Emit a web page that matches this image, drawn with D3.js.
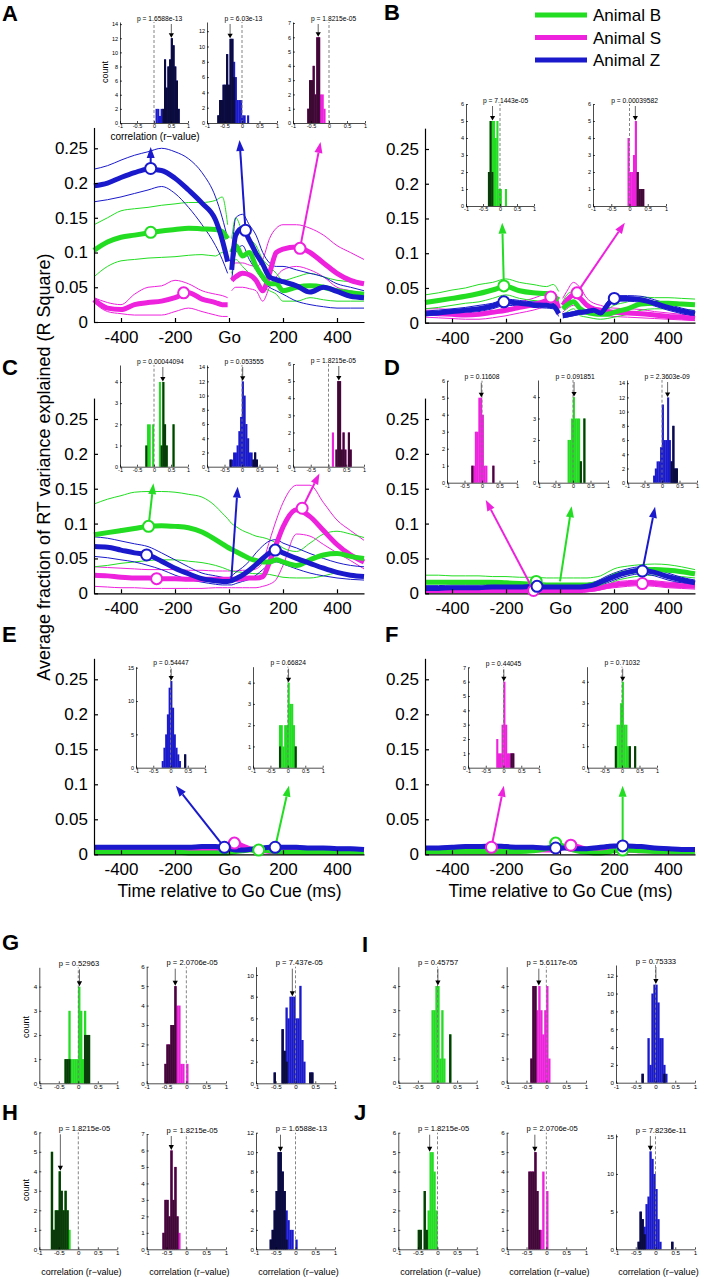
<!DOCTYPE html>
<html><head><meta charset="utf-8">
<script src="https://cdn.jsdelivr.net/npm/d3@7"></script>
<style>body{margin:0;background:#fff}svg{display:block}</style>
</head><body>
<svg id="fig" width="706" height="1280"></svg>
<script>
// ---------------- DATA ----------------
const times = [-500,-450,-400,-350,-300,-250,-200,-150,-100,-50,-25,-5,10,25,50,75,100,125,150,175,200,250,300,350,400,450,500];
const xTickValues = [-400,-200,0,200,400];
const xTickLabels = ["-400","-200","Go","200","400"];
const yTickValues = [0,0.05,0.1,0.15,0.2,0.25];
const yTickLabels = ["0","0.05","0.1","0.15","0.2","0.25"];
const animals = ["B","S","Z"];
const animalNames = ["Animal B","Animal S","Animal Z"];

// Panel A
const A_Z_mean=[0.196,0.2,0.208,0.215,0.22,0.218,0.207,0.19,0.171,0.147,0.118,0.087,0.075,0.125,0.135,0.118,0.099,0.083,0.065,0.061,0.058,0.052,0.043,0.05,0.044,0.037,0.035];
const A_Z_hi=[0.22,0.225,0.233,0.24,0.245,0.25,0.245,0.235,0.215,0.18,0.15,0.12,0.09,0.15,0.155,0.14,0.125,0.1,0.085,0.08,0.08,0.075,0.07,0.065,0.055,0.05,0.045];
const A_Z_lo=[0.173,0.176,0.18,0.185,0.19,0.195,0.185,0.165,0.14,0.11,0.09,0.07,0.06,0.1,0.11,0.09,0.075,0.06,0.05,0.045,0.04,0.03,0.025,0.022,0.02,0.02,0.02];
const A_B_mean=[0.103,0.115,0.122,0.125,0.128,0.131,0.133,0.135,0.134,0.133,0.13,0.12,0.1,0.11,0.095,0.1,0.08,0.065,0.055,0.055,0.045,0.05,0.052,0.05,0.045,0.042,0.04];
const A_B_hi=[0.14,0.15,0.16,0.163,0.165,0.168,0.17,0.172,0.172,0.175,0.18,0.14,0.12,0.15,0.13,0.12,0.11,0.09,0.08,0.07,0.06,0.065,0.07,0.065,0.06,0.058,0.055];
const A_B_lo=[0.065,0.08,0.088,0.09,0.092,0.093,0.094,0.096,0.097,0.095,0.1,0.09,0.07,0.09,0.08,0.07,0.06,0.05,0.045,0.04,0.03,0.03,0.035,0.032,0.03,0.03,0.03];
const A_S_mean=[0.032,0.02,0.018,0.025,0.028,0.03,0.035,0.042,0.033,0.028,0.025,0.025,0.06,0.065,0.07,0.068,0.06,0.045,0.07,0.1,0.105,0.108,0.1,0.085,0.07,0.06,0.055];
const A_S_hi=[0.035,0.028,0.025,0.04,0.05,0.052,0.06,0.055,0.045,0.04,0.038,0.035,0.08,0.085,0.085,0.082,0.08,0.09,0.12,0.135,0.14,0.14,0.135,0.125,0.11,0.1,0.09];
const A_S_lo=[0.028,0.015,0.012,0.01,0.01,0.01,0.015,0.02,0.015,0.01,0.008,0.008,0.045,0.05,0.05,0.048,0.045,0.03,0.05,0.065,0.075,0.08,0.075,0.065,0.05,0.045,0.04];
// Panel B
const B_B_mean=[0.029,0.032,0.035,0.038,0.042,0.047,0.052,0.046,0.043,0.042,0.038,0.033,0.02,0.025,0.03,0.02,0.015,0.013,0.012,0.012,0.015,0.02,0.027,0.028,0.028,0.027,0.026];
const B_B_hi=[0.04,0.043,0.047,0.05,0.055,0.058,0.063,0.058,0.055,0.052,0.055,0.045,0.03,0.04,0.045,0.035,0.025,0.022,0.02,0.02,0.025,0.03,0.037,0.036,0.036,0.035,0.034];
const B_B_lo=[0.02,0.022,0.025,0.028,0.03,0.035,0.04,0.035,0.032,0.03,0.028,0.025,0.01,0.015,0.02,0.01,0.008,0.006,0.005,0.006,0.008,0.012,0.018,0.02,0.02,0.019,0.018];
const B_Z_mean=[0.013,0.014,0.016,0.018,0.02,0.024,0.03,0.028,0.026,0.025,0.024,0.013,0.01,0.011,0.013,0.015,0.016,0.018,0.014,0.025,0.035,0.035,0.033,0.028,0.022,0.017,0.013];
const B_Z_hi=[0.017,0.018,0.02,0.022,0.025,0.028,0.034,0.032,0.03,0.03,0.028,0.017,0.013,0.014,0.016,0.018,0.019,0.021,0.018,0.03,0.039,0.039,0.038,0.033,0.027,0.021,0.017];
const B_Z_lo=[0.01,0.011,0.012,0.014,0.016,0.02,0.025,0.024,0.022,0.021,0.02,0.009,0.007,0.008,0.01,0.012,0.013,0.015,0.011,0.021,0.031,0.031,0.029,0.024,0.018,0.013,0.009];
const B_S_mean=[0.014,0.013,0.012,0.011,0.012,0.015,0.018,0.022,0.026,0.032,0.037,0.02,0.025,0.032,0.04,0.035,0.025,0.02,0.018,0.016,0.015,0.014,0.013,0.011,0.009,0.008,0.006];
const B_S_hi=[0.02,0.02,0.019,0.02,0.022,0.025,0.028,0.03,0.035,0.042,0.045,0.028,0.035,0.045,0.058,0.05,0.035,0.028,0.025,0.022,0.021,0.02,0.019,0.016,0.014,0.012,0.01];
const B_S_lo=[0.008,0.007,0.006,0.005,0.005,0.007,0.01,0.014,0.018,0.024,0.028,0.012,0.015,0.02,0.025,0.02,0.015,0.012,0.011,0.01,0.009,0.008,0.007,0.006,0.005,0.004,0.003];
// Panel C
const C_B_mean=[0.084,0.087,0.09,0.093,0.096,0.097,0.096,0.094,0.088,0.077,0.071,0.066,0.063,0.06,0.055,0.05,0.047,0.045,0.045,0.048,0.045,0.04,0.048,0.055,0.057,0.053,0.05];
const C_B_hi=[0.128,0.135,0.14,0.145,0.146,0.146,0.145,0.142,0.138,0.125,0.115,0.107,0.1,0.096,0.09,0.086,0.082,0.08,0.077,0.072,0.065,0.06,0.072,0.085,0.089,0.085,0.08];
const C_B_lo=[0.038,0.04,0.043,0.045,0.047,0.048,0.048,0.046,0.044,0.04,0.037,0.034,0.032,0.031,0.03,0.029,0.028,0.028,0.027,0.025,0.023,0.022,0.022,0.025,0.029,0.028,0.026];
const C_Z_mean=[0.067,0.066,0.062,0.058,0.055,0.046,0.036,0.028,0.021,0.018,0.017,0.017,0.018,0.021,0.026,0.033,0.041,0.05,0.058,0.062,0.058,0.05,0.043,0.036,0.03,0.026,0.024];
const C_Z_hi=[0.081,0.079,0.075,0.071,0.067,0.058,0.048,0.038,0.029,0.025,0.023,0.022,0.025,0.03,0.037,0.046,0.058,0.068,0.075,0.077,0.072,0.065,0.057,0.05,0.044,0.04,0.038];
const C_Z_lo=[0.053,0.051,0.048,0.045,0.04,0.034,0.026,0.02,0.016,0.013,0.012,0.012,0.012,0.014,0.017,0.02,0.026,0.034,0.042,0.045,0.042,0.035,0.029,0.025,0.022,0.02,0.019];
const C_S_mean=[0.026,0.025,0.023,0.022,0.022,0.021,0.021,0.02,0.02,0.02,0.02,0.02,0.02,0.02,0.021,0.022,0.022,0.024,0.045,0.07,0.095,0.12,0.11,0.09,0.07,0.055,0.045];
const C_S_hi=[0.038,0.037,0.036,0.035,0.034,0.034,0.034,0.033,0.033,0.032,0.032,0.032,0.032,0.032,0.033,0.033,0.035,0.045,0.075,0.105,0.13,0.155,0.155,0.13,0.105,0.09,0.076];
const C_S_lo=[0.01,0.009,0.008,0.008,0.007,0.007,0.007,0.007,0.007,0.008,0.008,0.008,0.008,0.008,0.008,0.008,0.008,0.01,0.013,0.02,0.04,0.085,0.082,0.07,0.058,0.047,0.035];
// Panel D
const D_B_mean=[0.016,0.016,0.016,0.016,0.016,0.016,0.015,0.014,0.013,0.012,0.012,0.012,0.012,0.012,0.012,0.012,0.012,0.013,0.015,0.02,0.025,0.03,0.033,0.034,0.033,0.031,0.028];
const D_B_hi=[0.026,0.026,0.025,0.025,0.025,0.024,0.024,0.023,0.023,0.022,0.022,0.022,0.022,0.022,0.022,0.022,0.022,0.023,0.025,0.03,0.035,0.039,0.041,0.042,0.041,0.038,0.034];
const D_B_lo=[0.008,0.008,0.008,0.008,0.008,0.008,0.007,0.007,0.006,0.006,0.006,0.006,0.006,0.006,0.006,0.006,0.006,0.007,0.008,0.012,0.017,0.022,0.025,0.026,0.025,0.024,0.022];
const D_Z_mean=[0.007,0.007,0.008,0.008,0.008,0.009,0.009,0.009,0.01,0.009,0.009,0.009,0.009,0.009,0.009,0.009,0.01,0.012,0.016,0.02,0.024,0.03,0.033,0.03,0.024,0.019,0.015];
const D_Z_hi=[0.011,0.011,0.012,0.012,0.012,0.013,0.013,0.013,0.014,0.013,0.013,0.013,0.013,0.013,0.013,0.013,0.014,0.016,0.02,0.025,0.029,0.035,0.038,0.035,0.029,0.023,0.019];
const D_Z_lo=[0.003,0.003,0.004,0.004,0.004,0.005,0.005,0.005,0.006,0.005,0.005,0.005,0.005,0.005,0.005,0.005,0.006,0.008,0.012,0.015,0.019,0.025,0.028,0.025,0.019,0.015,0.011];
const D_S_mean=[0.004,0.004,0.004,0.004,0.004,0.004,0.004,0.004,0.004,0.004,0.004,0.004,0.004,0.004,0.004,0.004,0.005,0.006,0.008,0.01,0.012,0.014,0.015,0.014,0.012,0.011,0.01];
const D_S_hi=[0.007,0.007,0.007,0.007,0.007,0.007,0.007,0.007,0.007,0.007,0.007,0.007,0.007,0.007,0.007,0.007,0.008,0.009,0.011,0.013,0.016,0.018,0.019,0.018,0.016,0.015,0.014];
const D_S_lo=[0.001,0.001,0.001,0.001,0.001,0.001,0.001,0.001,0.001,0.001,0.001,0.001,0.001,0.001,0.001,0.001,0.002,0.003,0.005,0.007,0.008,0.01,0.011,0.01,0.008,0.007,0.006];
// Panel E
const E_Z_mean=[0.010,0.010,0.010,0.010,0.010,0.010,0.010,0.010,0.011,0.011,0.010,0.009,0.007,0.006,0.006,0.007,0.008,0.009,0.010,0.010,0.010,0.010,0.009,0.009,0.008,0.008,0.007];
const E_Z_hi=[0.012,0.012,0.012,0.012,0.012,0.012,0.012,0.012,0.013,0.013,0.012,0.011,0.009,0.008,0.008,0.009,0.010,0.011,0.012,0.012,0.012,0.012,0.011,0.011,0.010,0.010,0.009];
const E_Z_lo=[0.008,0.008,0.008,0.008,0.008,0.008,0.008,0.008,0.009,0.009,0.008,0.007,0.005,0.004,0.004,0.005,0.006,0.007,0.008,0.008,0.008,0.008,0.007,0.007,0.006,0.006,0.005];
const E_S_mean=[0.005,0.005,0.005,0.005,0.005,0.005,0.005,0.005,0.006,0.007,0.009,0.012,0.015,0.016,0.012,0.008,0.005,0.005,0.004,0.004,0.004,0.004,0.004,0.004,0.004,0.004,0.004];
const E_S_hi=[0.007,0.007,0.007,0.007,0.007,0.007,0.007,0.007,0.008,0.009,0.011,0.014,0.017,0.018,0.014,0.010,0.007,0.007,0.006,0.006,0.006,0.006,0.006,0.006,0.006,0.006,0.006];
const E_S_lo=[0.003,0.003,0.003,0.003,0.003,0.003,0.003,0.003,0.004,0.005,0.007,0.010,0.013,0.014,0.010,0.006,0.003,0.003,0.002,0.002,0.002,0.002,0.002,0.002,0.002,0.002,0.002];
const E_B_mean=[0.003,0.003,0.003,0.003,0.003,0.003,0.003,0.002,0.002,0.002,0.002,0.002,0.003,0.004,0.005,0.006,0.006,0.006,0.005,0.004,0.003,0.003,0.003,0.003,0.003,0.003,0.003];
const E_B_hi=[0.005,0.005,0.005,0.005,0.005,0.005,0.005,0.004,0.004,0.004,0.004,0.004,0.005,0.006,0.007,0.008,0.008,0.008,0.007,0.006,0.005,0.005,0.005,0.005,0.005,0.005,0.005];
const E_B_lo=[0.001,0.001,0.001,0.001,0.001,0.001,0.001,0.000,0.000,0.000,0.000,0.000,0.001,0.002,0.003,0.004,0.004,0.004,0.003,0.002,0.001,0.001,0.001,0.001,0.001,0.001,0.001];
// Panel F
const F_Z_mean=[0.009,0.009,0.010,0.011,0.011,0.012,0.011,0.010,0.010,0.009,0.009,0.009,0.009,0.009,0.008,0.008,0.008,0.009,0.010,0.011,0.012,0.012,0.011,0.009,0.008,0.007,0.007];
const F_Z_hi=[0.011,0.011,0.012,0.013,0.013,0.014,0.013,0.012,0.012,0.011,0.011,0.011,0.011,0.011,0.010,0.010,0.010,0.011,0.012,0.013,0.014,0.014,0.013,0.011,0.010,0.009,0.009];
const F_Z_lo=[0.007,0.007,0.008,0.009,0.009,0.010,0.009,0.008,0.008,0.007,0.007,0.007,0.007,0.007,0.006,0.006,0.006,0.007,0.008,0.009,0.010,0.010,0.009,0.007,0.006,0.005,0.005];
const F_S_mean=[0.006,0.006,0.006,0.007,0.008,0.009,0.008,0.007,0.006,0.006,0.006,0.007,0.009,0.011,0.012,0.010,0.007,0.006,0.006,0.006,0.006,0.006,0.005,0.005,0.005,0.005,0.005];
const F_S_hi=[0.008,0.008,0.008,0.009,0.010,0.011,0.010,0.009,0.008,0.008,0.008,0.009,0.011,0.013,0.014,0.012,0.009,0.008,0.008,0.008,0.008,0.008,0.007,0.007,0.007,0.007,0.007];
const F_S_lo=[0.004,0.004,0.004,0.005,0.006,0.007,0.006,0.005,0.004,0.004,0.004,0.005,0.007,0.009,0.010,0.008,0.005,0.004,0.004,0.004,0.004,0.004,0.003,0.003,0.003,0.003,0.003];
const F_B_mean=[0.004,0.004,0.004,0.004,0.004,0.004,0.004,0.004,0.005,0.008,0.012,0.014,0.012,0.009,0.006,0.004,0.003,0.002,0.002,0.003,0.005,0.006,0.005,0.004,0.004,0.004,0.004];
const F_B_hi=[0.006,0.006,0.006,0.006,0.006,0.006,0.006,0.006,0.007,0.010,0.014,0.016,0.014,0.011,0.008,0.006,0.005,0.004,0.004,0.005,0.007,0.008,0.007,0.006,0.006,0.006,0.006];
const F_B_lo=[0.002,0.002,0.002,0.002,0.002,0.002,0.002,0.002,0.003,0.006,0.010,0.012,0.010,0.007,0.004,0.002,0.001,0.000,0.000,0.001,0.003,0.004,0.003,0.002,0.002,0.002,0.002];

// markers: [animal, time, value]
const markersA=[["Z",-290,0.221],["Z",61,0.132],["B",-290,0.129],["S",-168,0.042],["S",263,0.106]];
const markersB=[["B",-208,0.053],["Z",-208,0.03],["S",-34,0.037],["S",63,0.043],["Z",201,0.035]];
const markersC=[["B",-298,0.096],["Z",-305,0.055],["S",-268,0.021],["Z",171,0.062],["S",271,0.122]];
const markersD=[["S",-98,0.004],["B",-88,0.017],["Z",-85,0.01],["S",305,0.014],["Z",305,0.032]];
const markersE=[["B",110,0.006],["S",20,0.016],["Z",-17,0.01],["Z",171,0.01]];
const markersF=[["S",-254,0.01],["B",-16,0.016],["Z",-16,0.009],["S",40,0.013],["B",232,0.006],["Z",232,0.012]];
// pointer arrows: [animal, t0, v0, t1, v1]
const arrowsA=[["Z",-290,0.221,-290,0.252],["Z",61,0.132,39,0.262],["S",263,0.106,339,0.259]];
const arrowsB=[["B",-208,0.053,-214,0.144],["S",63,0.043,240,0.144]];
const arrowsC=[["B",-298,0.096,-280,0.158],["Z",8,0.017,32,0.153],["S",271,0.122,335,0.172]];
const arrowsD=[["S",-98,0.004,-275,0.134],["B",0,0.017,43,0.125],["Z",305,0.032,352,0.124]];
const arrowsE=[["Z",-17,0.01,-197,0.098],["B",171,0.01,222,0.098]];
const arrowsF=[["S",-254,0.01,-208,0.098],["B",232,0.012,232,0.098]];

// histograms: [bin left edge r, total count, significant (dark) count]
const BIN = 0.05;
const histA1=[[0.05,2,0],[0.1,2,0],[0.15,1,0],[0.2,2,0],[0.25,2,2],[0.3,9,9],[0.35,5,5],[0.4,8,8],[0.45,9,9],[0.5,12,12],[0.55,11,11],[0.6,8,8],[0.65,6,6],[0.7,2,2]];
const histA2=[[-0.7,1,1],[-0.65,3,3],[-0.6,3,3],[-0.55,5,5],[-0.5,5,5],[-0.45,9,9],[-0.4,5,5],[-0.35,11,11],[-0.3,11,11],[-0.25,8,6],[-0.2,6,0],[-0.15,3,0],[-0.1,3,0],[-0.05,3,0],[0,1,0],[0.05,1,0],[0.15,1,0]];
const histA3=[[-0.6,1,1],[-0.55,3,3],[-0.5,3,3],[-0.45,4,4],[-0.4,2,2],[-0.35,6,6],[-0.3,6,6],[-0.25,2,0],[-0.2,2,0],[-0.15,1,0]];
const histB1=[[-0.35,2,2],[-0.3,5,5],[-0.25,5,2],[-0.2,5,0],[-0.15,4,0],[-0.1,5,0],[-0.05,1,0],[0,1,0],[0.15,1,0]];
const histB2=[[-0.05,4,0],[0,2,0],[0.05,2,0],[0.1,3,0],[0.15,5,0],[0.2,2,2],[0.25,1,1],[0.3,1,1],[0.35,1,1]];
const histC1=[[-0.25,1,1],[-0.2,2,0],[-0.15,2,0],[-0.05,2,0],[0.15,4,0],[0.2,1,1],[0.25,4,4],[0.3,2,2],[0.35,1,1],[0.55,2,2]];
const histC2=[[-0.35,1,1],[-0.3,1,0],[-0.25,2,0],[-0.2,2,0],[-0.15,3,0],[-0.1,5,0],[-0.05,7,0],[0,12,0],[0.05,10,0],[0.1,6,0],[0.15,4,0],[0.2,2,0],[0.25,2,0],[0.3,1,1],[0.35,2,2],[0.4,1,1]];
const histC3=[[0.1,2,0],[0.2,1,1],[0.25,5,5],[0.3,5,5],[0.35,1,1],[0.4,2,2],[0.45,1,1],[0.55,2,2],[0.6,1,1]];
const histD1=[[-0.3,1,1],[-0.25,1,0],[-0.2,3,0],[-0.15,3,0],[-0.1,5,0],[-0.05,5,0],[0,4,0],[0.05,1,0],[0.1,1,0],[0.3,1,1]];
const histD2=[[-0.15,2,0],[-0.1,2,0],[-0.05,3,0],[0,4,0],[0.05,3,0],[0.1,3,0],[0.15,3,0],[0.2,1,1],[0.3,3,3]];
const histD3=[[-0.25,1,0],[-0.2,2,0],[-0.15,3,0],[-0.1,3,0],[-0.05,5,0],[0,11,0],[0.05,6,0],[0.1,6,0],[0.15,12,0],[0.2,6,0],[0.25,3,3],[0.3,8,8],[0.35,2,2],[0.4,2,2]];
const histE1=[[-0.25,1,0],[-0.2,3,0],[-0.15,5,0],[-0.1,8,0],[-0.05,12,0],[0,13,0],[0.05,9,0],[0.1,5,0],[0.15,3,0],[0.2,2,0],[0.25,1,0],[0.4,2,2]];
const histE2=[[-0.25,2,1],[-0.2,2,0],[-0.15,1,0],[-0.1,2,0],[-0.05,2,0],[0,4,0],[0.05,3,0],[0.1,3,0],[0.15,2,0],[0.2,1,1]];
const histF1=[[-0.2,2,0],[-0.15,1,0],[-0.1,1,0],[-0.05,3,0],[0,6,0],[0.05,3,0],[0.1,1,0],[0.15,1,0],[0.2,1,1],[0.25,1,1]];
const histF2=[[-0.2,1,1],[-0.15,2,0],[-0.1,2,0],[-0.05,3,0],[0,4,0],[0.05,2,0],[0.1,2,0],[0.15,1,0],[0.2,1,1],[0.35,1,1]];
const histG1=[[-0.35,1,1],[-0.3,1,1],[-0.25,3,1],[-0.2,1,0],[-0.15,1,0],[-0.1,1,0],[-0.05,1,0],[0,4,0],[0.05,3,0],[0.1,1,0],[0.15,3,2],[0.2,2,2],[0.25,2,2]];
const histG2=[[-0.55,1,1],[-0.5,2,2],[-0.45,2,2],[-0.4,3,3],[-0.35,3,3],[-0.3,5,5],[-0.25,4,0],[-0.2,4,0],[-0.15,1,0],[-0.1,1,0],[0,1,0]];
const histG3=[[-0.55,1,1],[-0.35,5,5],[-0.3,3,3],[-0.25,7,2],[-0.2,6,0],[-0.15,8,0],[-0.1,8,0],[-0.05,8,0],[0,6,0],[0.05,6,0],[0.1,9,0],[0.15,4,0],[0.2,2,0],[0.35,1,1],[0.4,1,1]];
const histH1=[[-0.7,5,5],[-0.65,1,1],[-0.6,2,2],[-0.55,2,2],[-0.5,4,4],[-0.45,3,3],[-0.4,2,2],[-0.35,3,3],[-0.3,2,2],[-0.25,1,0]];
const histH2=[[-0.6,1,1],[-0.55,3,3],[-0.5,3,3],[-0.45,2,2],[-0.4,6,6],[-0.35,3,3],[-0.3,5,5],[-0.25,2,2],[-0.2,1,0]];
const histH3=[[-0.65,1,1],[-0.6,2,2],[-0.55,4,4],[-0.5,6,6],[-0.45,10,10],[-0.4,10,10],[-0.35,8,8],[-0.3,6,6],[-0.25,4,1],[-0.2,3,0],[-0.15,2,0],[-0.1,2,0],[0,1,0]];
const histI1=[[-0.15,3,0],[-0.1,3,0],[-0.05,4,0],[0,4,0],[0.05,1,0],[0.1,3,0],[0.15,1,0],[0.3,2,2]];
const histI2=[[-0.4,1,1],[-0.35,4,4],[-0.3,4,4],[-0.25,3,0],[-0.2,4,0],[-0.15,3,0],[-0.1,2,0],[-0.05,3,0],[0,4,0],[0.05,1,0]];
const histI3=[[-0.35,1,1],[-0.2,5,0],[-0.15,2,0],[-0.1,10,0],[-0.05,11,0],[0,11,0],[0.05,9,0],[0.1,5,0],[0.15,5,0],[0.2,2,1],[0.25,1,0]];
const histJ1=[[-0.5,1,1],[-0.45,1,1],[-0.35,3,3],[-0.3,1,1],[-0.25,2,0],[-0.2,5,0],[-0.15,5,0],[-0.1,4,0],[-0.05,2,0]];
const histJ2=[[-0.45,4,4],[-0.4,4,4],[-0.35,4,4],[-0.3,5,5],[-0.25,3,3],[-0.2,1,1],[-0.15,1,0],[-0.1,4,0],[0,3,0]];
const histJ3=[[-0.45,1,1],[-0.4,5,5],[-0.35,4,4],[-0.3,3,2],[-0.25,6,0],[-0.2,7,0],[-0.15,13,0],[-0.1,12,0],[-0.05,10,0],[0,8,0],[0.05,4,0],[0.1,1,0],[0.4,1,1]];

const insetKeys=["A1","A2","A3","B1","B2","C1","C2","C3","D1","D2","D3","E1","E2","F1","F2","G1","G2","G3","H1","H2","H3","I1","I2","I3","J1","J2","J3"];
const insetAnimal=["Z","Z","S","B","S","B","Z","S","S","B","Z","Z","B","S","B","B","S","Z","B","S","Z","B","S","Z","B","S","Z"];
const insetP=["1.6588e-13","6.03e-13","1.8215e-05","7.1443e-05","0.00039582","0.00044094","0.053555","1.8215e-05","0.11608","0.091851","2.3603e-09","0.54447","0.66824","0.44045","0.71032","0.52963","2.0706e-05","7.437e-05","1.8215e-05","1.8215e-05","1.6588e-13","0.45757","5.6117e-05","0.75333","1.8215e-05","2.0706e-05","7.8236e-11"];
const insetMean=[0.51,-0.34,-0.3,-0.22,0.16,0.26,0.02,0.29,-0.02,0.03,0.16,0.02,0.02,0.01,0.02,0.03,-0.28,-0.08,-0.46,-0.38,-0.38,0.01,-0.19,0.01,-0.2,-0.29,-0.13];
const insetYMax=[14.3,13.2,7.07,6,6,4.8,14.3,6,6,4.8,14.45,15.15,4.75,7,4.7,4.8,6,10.77,6,7,12,4.8,4.8,13.2,6,6,15.3];
const insetYTicks=[[0,2,4,6,8,10,12,14],[0,2,4,6,8,10,12],[0,1,2,3,4,5,6,7],[0,1,2,3,4,5,6],[0,1,2,3,4,5,6],[0,1,2,3,4],[0,2,4,6,8,10,12,14],[0,1,2,3,4,5,6],[0,1,2,3,4,5,6],[0,1,2,3,4],[0,2,4,6,8,10,12,14],[0,5,10,15],[0,1,2,3,4],[0,1,2,3,4,5,6,7],[0,1,2,3,4],[0,1,2,3,4],[0,1,2,3,4,5,6],[0,2,4,6,8,10],[0,1,2,3,4,5,6],[0,1,2,3,4,5,6,7],[0,2,4,6,8,10,12],[0,1,2,3,4],[0,1,2,3,4],[0,2,4,6,8,10,12],[0,1,2,3,4,5,6],[0,1,2,3,4,5,6],[0,5,10,15]];
const insetXTicks=[-1,-0.5,0,0.5,1];

// ---------------- LAYOUT / STYLE ----------------
const FONT='"Liberation Sans", Arial, Helvetica, sans-serif';
const colors={B:"#22dd22",S:"#ee22dd",Z:"#1a1acc"};
const darks={B:"#0b3a0b",S:"#3c0a32",Z:"#0b0b3c"};
const mainLayout={
  A:{x0:94,x1:364,y0:322,y25:148.3,gap:true},
  B:{x0:425,x1:695,y0:322.7,y25:149,gap:true},
  C:{x0:94,x1:364,y0:593.3,y25:419,gap:false},
  D:{x0:425,x1:695,y0:593.3,y25:419,gap:false},
  E:{x0:94,x1:364,y0:854.3,y25:679.3,gap:false},
  F:{x0:425,x1:695,y0:854.3,y25:679.3,gap:false}
};
// [x at r=-1, x at r=1, y at count 0, y at ymax]
const insetBox={
  A1:[120,188,123,22],A2:[207,277,123,22],A3:[293,365,123,22],
  B1:[466,534,206,104],B2:[593,666,206,104],
  C1:[120,188,466.7,365],C2:[207,277,466.7,365],C3:[293,364,466.7,364],
  D1:[447,517,482.7,380.7],D2:[538,608,482.7,380],D3:[627,697,482.7,380],
  E1:[136,205,767.7,666.7],E2:[253,322.7,767.7,666.7],
  F1:[468,539,767.7,667.3],F2:[587,657,767.7,666.7],
  G1:[39.3,117.3,1083.3,967.3],G2:[146.7,226,1083.3,966.7],G3:[256,335,1083.3,966.7],
  H1:[39.3,117.3,1249.3,1132.3],H2:[146.7,226,1249.3,1134],H3:[256,335,1249.3,1132.7],
  I1:[398.3,476.7,1082.7,966.7],I2:[506.7,586,1082.7,966.7],I3:[616,695,1082.7,965],
  J1:[398.3,476.7,1249.3,1132.7],J2:[506.7,586,1249.3,1132.7],J3:[616,695,1249.3,1134]
};

const mainSeries={
  A:{B:[A_B_mean,A_B_hi,A_B_lo],S:[A_S_mean,A_S_hi,A_S_lo],Z:[A_Z_mean,A_Z_hi,A_Z_lo]},
  B:{B:[B_B_mean,B_B_hi,B_B_lo],S:[B_S_mean,B_S_hi,B_S_lo],Z:[B_Z_mean,B_Z_hi,B_Z_lo]},
  C:{B:[C_B_mean,C_B_hi,C_B_lo],S:[C_S_mean,C_S_hi,C_S_lo],Z:[C_Z_mean,C_Z_hi,C_Z_lo]},
  D:{B:[D_B_mean,D_B_hi,D_B_lo],S:[D_S_mean,D_S_hi,D_S_lo],Z:[D_Z_mean,D_Z_hi,D_Z_lo]},
  E:{B:[E_B_mean,E_B_hi,E_B_lo],S:[E_S_mean,E_S_hi,E_S_lo],Z:[E_Z_mean,E_Z_hi,E_Z_lo]},
  F:{B:[F_B_mean,F_B_hi,F_B_lo],S:[F_S_mean,F_S_hi,F_S_lo],Z:[F_Z_mean,F_Z_hi,F_Z_lo]}
};
const mainMarkers={A:markersA,B:markersB,C:markersC,D:markersD,E:markersE,F:markersF};
const mainArrows={A:arrowsA,B:arrowsB,C:arrowsC,D:arrowsD,E:arrowsE,F:arrowsF};
const insetHist={A1:histA1,A2:histA2,A3:histA3,B1:histB1,B2:histB2,C1:histC1,C2:histC2,C3:histC3,D1:histD1,D2:histD2,D3:histD3,E1:histE1,E2:histE2,F1:histF1,F2:histF2,G1:histG1,G2:histG2,G3:histG3,H1:histH1,H2:histH2,H3:histH3,I1:histI1,I2:histI2,I3:histI3,J1:histJ1,J2:histJ2,J3:histJ3};

// ---------------- DRAW ----------------
const svg=d3.select("#fig");
svg.append("rect").attr("width",706).attr("height",1280).attr("fill","#fff");

function styleAxis(g,fs,sw){
  g.attr("font-family",FONT).attr("font-size",fs);
  g.selectAll("path.domain").attr("stroke","#000").attr("stroke-width",sw);
  g.selectAll(".tick line").attr("stroke","#000").attr("stroke-width",sw);
  g.selectAll(".tick text").attr("fill","#000");
}
function head(g,x1,y1,x2,y2,len,wid,color){
  const a=Math.atan2(y2-y1,x2-x1);
  const bx=x2-len*Math.cos(a),by=y2-len*Math.sin(a);
  const px=-Math.sin(a)*wid/2,py=Math.cos(a)*wid/2;
  g.append("path").attr("d",`M${x2},${y2}L${bx+px},${by+py}L${bx-px},${by-py}Z`).attr("fill",color);
  return [bx,by];
}

function drawMain(key){
  const L=mainLayout[key];
  const k=(L.y0-L.y25)/0.25;
  const x=d3.scaleLinear().domain([-500,500]).range([L.x0,L.x1]);
  const y=d3.scaleLinear().domain([0,0.28]).range([L.y0,L.y0-0.28*k]);
  const g=svg.append("g");
  const line=d3.line().x(d=>x(d[0])).y(d=>y(d[1])).curve(d3.curveMonotoneX);
  const segs=vals=>{
    const pts=times.map((t,i)=>[t,vals[i]]);
    return L.gap?[pts.filter(p=>p[0]<0),pts.filter(p=>p[0]>0)]:[pts];
  };
  const order=["S","B","Z"];
  order.forEach(an=>[1,2].forEach(i=>segs(mainSeries[key][an][i]).forEach(s=>
    g.append("path").attr("d",line(s)).attr("fill","none").attr("stroke",colors[an]).attr("stroke-width",1))));
  order.forEach(an=>segs(mainSeries[key][an][0]).forEach(s=>
    g.append("path").attr("d",line(s)).attr("fill","none").attr("stroke",colors[an]).attr("stroke-width",5).attr("stroke-linejoin","round")));
  const ya=g.append("g").attr("transform",`translate(${L.x0},0)`)
    .call(d3.axisLeft(y).tickValues(yTickValues).tickFormat((d,i)=>yTickLabels[i]).tickSizeInner(-4).tickSizeOuter(0).tickPadding(6));
  styleAxis(ya,17,1.2);
  const xa=g.append("g").attr("transform",`translate(0,${L.y0})`)
    .call(d3.axisBottom(x).tickValues(xTickValues).tickFormat((d,i)=>xTickLabels[i]).tickSizeInner(-4).tickSizeOuter(0).tickPadding(9));
  styleAxis(xa,17,1.2);
  mainArrows[key].forEach(a=>{
    const X0=x(a[1]),Y0=y(a[2]),X1=x(a[3]),Y1=y(a[4]);
    const b=head(g,X0,Y0,X1,Y1,11,8,colors[a[0]]);
    g.append("line").attr("x1",X0).attr("y1",Y0).attr("x2",b[0]).attr("y2",b[1]).attr("stroke",colors[a[0]]).attr("stroke-width",2);
  });
  mainMarkers[key].forEach(m=>{
    g.append("circle").attr("cx",x(m[1])).attr("cy",y(m[2])).attr("r",5.5)
      .attr("fill","#fff").attr("stroke",colors[m[0]]).attr("stroke-width",2);
  });
}
["A","B","C","D","E","F"].forEach(drawMain);

function drawInset(key,idx){
  const [X0,X1,YB,YT]=insetBox[key];
  const big=(X1-X0)>74;
  const an=insetAnimal[idx];
  const bars=insetHist[key];
  const ymax=insetYMax[idx];
  const x=d3.scaleLinear().domain([-1,1]).range([X0,X1]);
  const y=d3.scaleLinear().domain([0,ymax]).range([YB,YT]);
  const g=svg.append("g");
  const OV=0.35;
  g.selectAll("rect.l").data(bars).join("rect").attr("class","l")
    .attr("x",d=>x(d[0])-OV/2).attr("width",d=>x(d[0]+BIN)-x(d[0])+OV)
    .attr("y",d=>y(d[1])).attr("height",d=>y(0)-y(d[1])).attr("fill",colors[an]);
  g.selectAll("rect.d").data(bars.filter(d=>d[2]>0)).join("rect").attr("class","d")
    .attr("x",d=>x(d[0])-OV/2).attr("width",d=>x(d[0]+BIN)-x(d[0])+OV)
    .attr("y",d=>y(d[2])).attr("height",d=>y(0)-y(d[2])).attr("fill",darks[an]);
  g.append("line").attr("x1",x(0)).attr("x2",x(0)).attr("y1",y(0)).attr("y2",y(ymax))
    .attr("stroke","#777").attr("stroke-width",0.9).attr("stroke-dasharray","3,2");
  const fs=big?6.2:5.5;
  const ya=g.append("g").attr("transform",`translate(${X0},0)`)
    .call(d3.axisLeft(y).tickValues(insetYTicks[idx]).tickFormat(d=>String(d)).tickSizeInner(-2).tickSizeOuter(0).tickPadding(2));
  styleAxis(ya,fs,0.7);
  const xa=g.append("g").attr("transform",`translate(0,${YB})`)
    .call(d3.axisBottom(x).tickValues(insetXTicks).tickFormat(d=>String(d)).tickSizeInner(-2).tickSizeOuter(0).tickPadding(1.5));
  styleAxis(xa,fs,0.7);
  g.append("text").attr("x",x(-0.5)).attr("y",YT-1.5).attr("font-family",FONT)
    .attr("font-size",big?7.6:6.7).attr("fill","#000").text("p = "+insetP[idx]);
  const m=insetMean[idx];
  const bin=bars.find(b=>m>=b[0]-1e-9&&m<b[0]+BIN-1e-9);
  const tip=y(bin?bin[1]:0)-0.5;
  const hl=big?5:4.5;
  g.append("line").attr("x1",x(m)).attr("x2",x(m)).attr("y1",YT+2).attr("y2",tip-hl+0.5).attr("stroke","#555").attr("stroke-width",0.9);
  g.append("path").attr("d",`M${x(m)},${tip}L${x(m)-2.6},${tip-hl}L${x(m)+2.6},${tip-hl}Z`).attr("fill","#000");
}
insetKeys.forEach((k,i)=>drawInset(k,i));

function txt(x,y,s,fs,opts={}){
  const t=svg.append("text").attr("x",x).attr("y",y).attr("font-family",FONT).attr("font-size",fs).attr("fill","#000").text(s);
  if(opts.anchor) t.attr("text-anchor",opts.anchor);
  if(opts.weight) t.attr("font-weight",opts.weight);
  if(opts.rot!=null) t.attr("transform",`rotate(${opts.rot},${x},${y})`);
  return t;
}
txt(107.5,72,"count",9,{anchor:"middle",rot:-90});
txt(155,140,"correlation (r\u2212value)",10,{anchor:"middle"});
txt(28.5,1027,"count",9,{anchor:"middle",rot:-90});
txt(28.5,1190,"count",9,{anchor:"middle",rot:-90});
["H1","H2","H3","J1","J2","J3"].forEach(k=>{
  const b=insetBox[k];
  txt((b[0]+b[1])/2+3,1275,"correlation (r\u2212value)",9,{anchor:"middle"});
});

txt(50,467,"Average fraction of RT variance explained (R Square)",18,{anchor:"middle",rot:-90});
txt(229.5,897,"Time relative to Go Cue (ms)",17.5,{anchor:"middle"});
txt(560.5,897,"Time relative to Go Cue (ms)",17.5,{anchor:"middle"});

[["A",2,21],["B",384,20],["C",2,375],["D",384,375],["E",2,642],["F",385,642],["G",2,950],["H",2,1120],["I",362,952],["J",354,1120]]
  .forEach(p=>txt(p[1],p[2],p[0],22,{weight:"bold"}));

animals.forEach((an,i)=>{
  const yy=15+i*22.5;
  svg.append("line").attr("x1",535).attr("x2",587).attr("y1",yy).attr("y2",yy).attr("stroke",colors[an]).attr("stroke-width",5);
  txt(593,yy+6,animalNames[i],17);
});
</script>
</body></html>
